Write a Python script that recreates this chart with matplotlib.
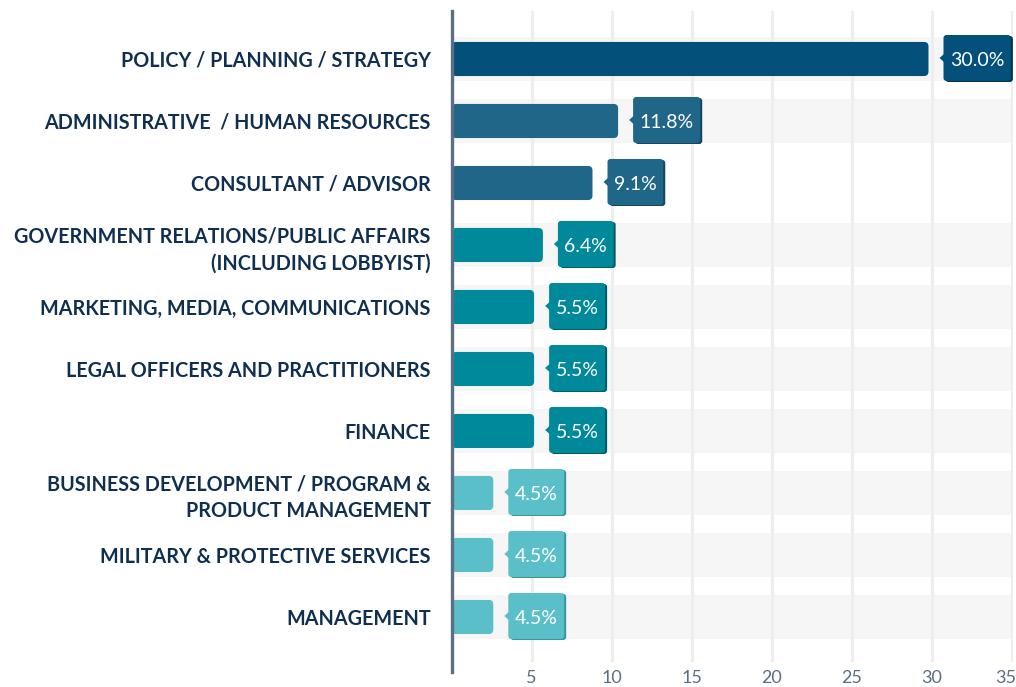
import matplotlib
matplotlib.use("Agg")
import matplotlib.pyplot as plt
from matplotlib.patches import FancyBboxPatch, Polygon
from matplotlib.transforms import IdentityTransform, ScaledTranslation

categories = [
    "POLICY / PLANNING / STRATEGY",
    "ADMINISTRATIVE  / HUMAN RESOURCES",
    "CONSULTANT / ADVISOR",
    "GOVERNMENT RELATIONS/PUBLIC AFFAIRS\n(INCLUDING LOBBYIST)",
    "MARKETING, MEDIA, COMMUNICATIONS",
    "LEGAL OFFICERS AND PRACTITIONERS",
    "FINANCE",
    "BUSINESS DEVELOPMENT / PROGRAM &\nPRODUCT MANAGEMENT",
    "MILITARY & PROTECTIVE SERVICES",
    "MANAGEMENT",
]
# bar lengths as drawn, and the percentages printed in the callouts
bar_lengths = [29.8, 10.4, 8.8, 5.7, 5.15, 5.15, 5.15, 2.6, 2.6, 2.6]
pct_labels = ["30.0%", "11.8%", "9.1%", "6.4%", "5.5%", "5.5%", "5.5%", "4.5%", "4.5%", "4.5%"]
x_ticks = [5, 10, 15, 20, 25, 30, 35]

bar_colors = ["#03507a", "#1f6688", "#1f6688", "#00899b", "#00899b", "#00899b",
              "#00899b", "#5bbfc9", "#5bbfc9", "#5bbfc9"]
shadow_colors = ["#01324f", "#124660", "#124660", "#005c68", "#005c68", "#005c68",
                 "#005c68", "#35969f", "#35969f", "#35969f"]
striped = [True, True, False, True, True, True, True, True, True, True]

plt.rcParams["font.family"] = ["Lato", "DejaVu Sans"]

W, H = 1016, 687
fig = plt.figure(figsize=(W / 100, H / 100), dpi=100)
ax = fig.add_axes([451.7 / W, 25 / H, 561.6 / W, 651 / H])
ax.set_xlim(0, 35.1)
ax.set_ylim(9.726, -0.774)

for s in ax.spines.values():
    s.set_visible(False)

# row bands
for i, st in enumerate(striped):
    if st:
        ax.axhspan(i - 0.355, i + 0.355, xmin=0, xmax=35 / 35.1,
                   color="#f6f6f6", lw=0, zorder=0)

ax.set_xticks(x_ticks)
ax.grid(axis="x", color="#eeeeee", lw=2.3, zorder=1)
ax.set_axisbelow(True)
ax.tick_params(axis="x", length=0, pad=6, labelsize=13, labelcolor="#5b6f84")
last = ax.get_xticklabels()[-1]
last.set_transform(last.get_transform() + ScaledTranslation(-0.06, 0, fig.dpi_scale_trans))
ax.set_yticks(range(len(categories)))
ax.set_yticklabels(categories, fontsize=14.2, fontweight="bold", color="#102f50",
                   linespacing=1.4)
ax.tick_params(axis="y", length=0, pad=15)

# rounded bars
for i, (L, c) in enumerate(zip(bar_lengths, bar_colors)):
    ax.add_patch(FancyBboxPatch((0, i - 0.275), L, 0.55,
                                boxstyle="round,pad=0,rounding_size=0.28",
                                mutation_aspect=16 / 62, fc=c, ec="none", zorder=3))

ax.axvline(0, ymin=-0.016, ymax=1, color="#5a6e84", lw=2.4, clip_on=False, zorder=6)

# callout boxes, drawn in pixel space
renderer = fig.canvas.get_renderer()
for i, (L, lab) in enumerate(zip(bar_lengths, pct_labels)):
    px, py = ax.transData.transform((L, i))
    py += 1
    t = fig.text(0, 0, lab, transform=IdentityTransform(), fontsize=14, color="white",
                 ha="center", va="center_baseline", zorder=12)
    tw = t.get_window_extent(renderer).width
    bw, bh = tw + 13, 46
    x0 = px + 15
    y0 = py - bh / 2
    shadow = FancyBboxPatch((x0 + 2, y0 - 1), bw, bh, boxstyle="round,pad=0,rounding_size=3",
                            fc=shadow_colors[i], ec="none", transform=IdentityTransform(), zorder=9)
    box = FancyBboxPatch((x0, y0), bw, bh, boxstyle="round,pad=0,rounding_size=3",
                         fc=bar_colors[i], ec="none", transform=IdentityTransform(), zorder=10)
    tip = Polygon([(x0 + 1, py + 4.5), (x0 - 4, py), (x0 + 1, py - 4.5)], closed=True,
                  fc=bar_colors[i], ec="none", transform=IdentityTransform(), zorder=10)
    fig.add_artist(shadow)
    fig.add_artist(box)
    fig.add_artist(tip)
    t.set_position((x0 + bw / 2, py - 1.5))

fig.savefig("out.png", dpi=100, facecolor="white")
